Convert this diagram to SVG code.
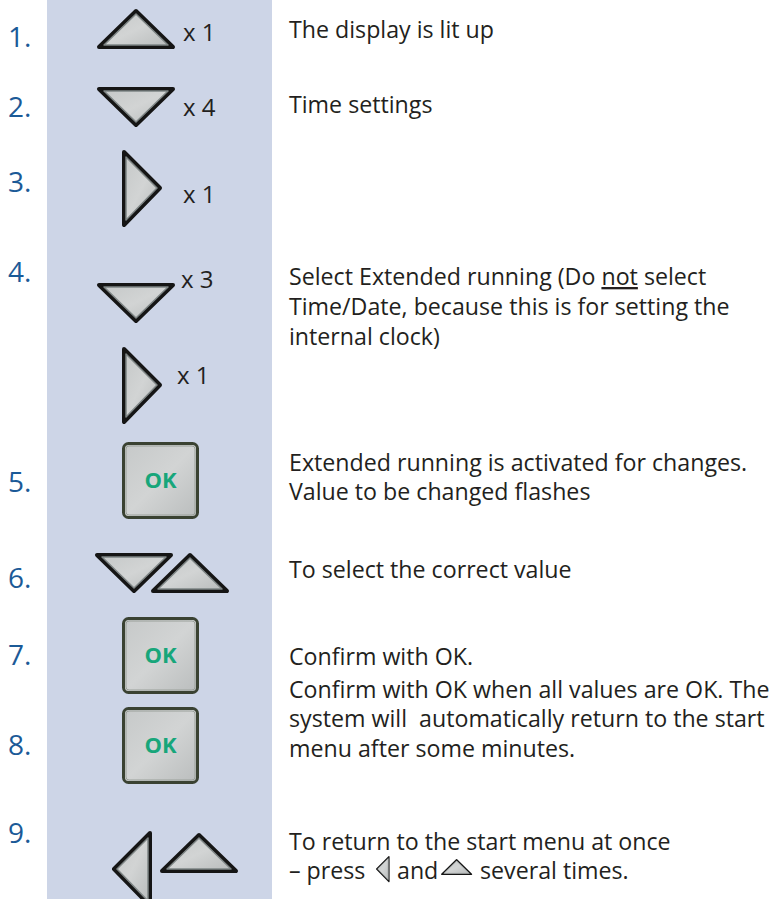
<svg xmlns="http://www.w3.org/2000/svg" xmlns:xlink="http://www.w3.org/1999/xlink" width="770" height="899" viewBox="0 0 770 899">
<style>
.num{font-family:"Open Sans","Noto Sans",sans-serif;font-size:28px;fill:#1b5a97}
.txt{font-family:"Open Sans","Noto Sans",sans-serif;font-size:23.2px;fill:#231f20}
.cnt{font-family:"Open Sans","Noto Sans",sans-serif;font-size:24px;fill:#231f20}
.ok{font-family:"Open Sans","Noto Sans",sans-serif;font-size:22px;font-weight:bold;fill:#17a67a}
.tri-o{fill:none;stroke:#151515;stroke-width:4;stroke-linejoin:round}
.tri-i{fill:url(#g);stroke:#7e8585;stroke-width:1.5;stroke-linejoin:round}
.btn-o{fill:url(#g);stroke:#3a4232;stroke-width:3}
.btn-i{fill:none;stroke:#9aa09a;stroke-width:1}
</style>
<defs>
<linearGradient id="g" x1="0" y1="0" x2="1" y2="1">
<stop offset="0" stop-color="#c6c9c9"/>
<stop offset="0.5" stop-color="#d2d4d4"/>
<stop offset="1" stop-color="#babdbd"/>
</linearGradient>
<g id="up">
<polygon class="tri-o" points="2,38 39,2 76,38"/>
<polygon class="tri-i" points="7,36 39,5 71,36"/>
</g>
<g id="down">
<polygon class="tri-o" points="2,2 76,2 39,38"/>
<polygon class="tri-i" points="7,4 71,4 39,35"/>
</g>
<g id="right">
<polygon class="tri-o" points="2,2 38,38 2,75"/>
<polygon class="tri-i" points="4,7 35,38 4,70"/>
</g>
<g id="left">
<polygon class="tri-o" points="38,2 2,38 38,75"/>
<polygon class="tri-i" points="36,7 5,38 36,70"/>
</g>
<g id="okbtn">
<rect class="btn-o" x="1.5" y="1.5" width="74" height="74" rx="5"/>
<rect class="btn-i" x="4" y="4" width="69" height="69" rx="3"/>
<text class="ok" x="38.5" y="46" text-anchor="middle">OK</text>
</g>
</defs>
<rect id="panel" x="47" y="0" width="225" height="899" fill="#cdd5e7"/>

<g id="step1">
<text class="num" x="8" y="47">1.</text>
<use xlink:href="#up" x="97" y="9"/>
<text class="cnt" x="183" y="41">x 1</text>
<text class="txt" x="289" y="38">The display is lit up</text>
</g>
<g id="step2">
<text class="num" x="8" y="117">2.</text>
<use xlink:href="#down" x="97" y="87"/>
<text class="cnt" x="183" y="116">x 4</text>
<text class="txt" x="289" y="113">Time settings</text>
</g>
<g id="step3">
<text class="num" x="8" y="192">3.</text>
<use xlink:href="#right" x="122" y="150"/>
<text class="cnt" x="183" y="203">x 1</text>
</g>
<g id="step4">
<text class="num" x="8" y="282">4.</text>
<use xlink:href="#down" x="97" y="283"/>
<text class="cnt" x="181" y="288">x 3</text>
<use xlink:href="#right" x="122" y="347"/>
<text class="cnt" x="177" y="384">x 1</text>
<text class="txt" x="289" y="285">Select Extended running (Do <tspan text-decoration="underline">not</tspan> select</text>
<text class="txt" x="289" y="315">Time/Date, because this is for setting the</text>
<text class="txt" x="289" y="345">internal clock)</text>
</g>
<g id="step5">
<text class="num" x="8" y="492">5.</text>
<use xlink:href="#okbtn" x="122" y="442"/>
<text class="txt" x="289" y="471">Extended running is activated for changes.</text>
<text class="txt" x="289" y="500">Value to be changed flashes</text>
</g>
<g id="step6">
<text class="num" x="8" y="588">6.</text>
<use xlink:href="#down" x="95" y="553"/>
<use xlink:href="#up" x="151" y="553"/>
<text class="txt" x="289" y="578">To select the correct value</text>
</g>
<g id="step7">
<text class="num" x="8" y="665">7.</text>
<use xlink:href="#okbtn" x="122" y="617"/>
<text class="txt" x="289" y="665">Confirm with OK.</text>
</g>
<g id="step8">
<text class="num" x="8" y="755">8.</text>
<use xlink:href="#okbtn" x="122" y="707"/>
<text class="txt" x="289" y="698">Confirm with OK when all values are OK. The</text>
<text class="txt" x="289" y="727" xml:space="preserve">system will  automatically return to the start</text>
<text class="txt" x="289" y="757">menu after some minutes.</text>
</g>
<g id="step9">
<text class="num" x="8" y="843">9.</text>
<use xlink:href="#left" x="112" y="831"/>
<use xlink:href="#up" x="160" y="833"/>
<text class="txt" x="289" y="850">To return to the start menu at once</text>
<text class="txt" x="289" y="879">– press</text>
<use xlink:href="#left" transform="translate(376,856) scale(0.34)"/>
<text class="txt" x="397" y="879">and</text>
<use xlink:href="#up" transform="translate(441,859) scale(0.4)"/>
<text class="txt" x="480" y="879">several times.</text>
</g>
</svg>
